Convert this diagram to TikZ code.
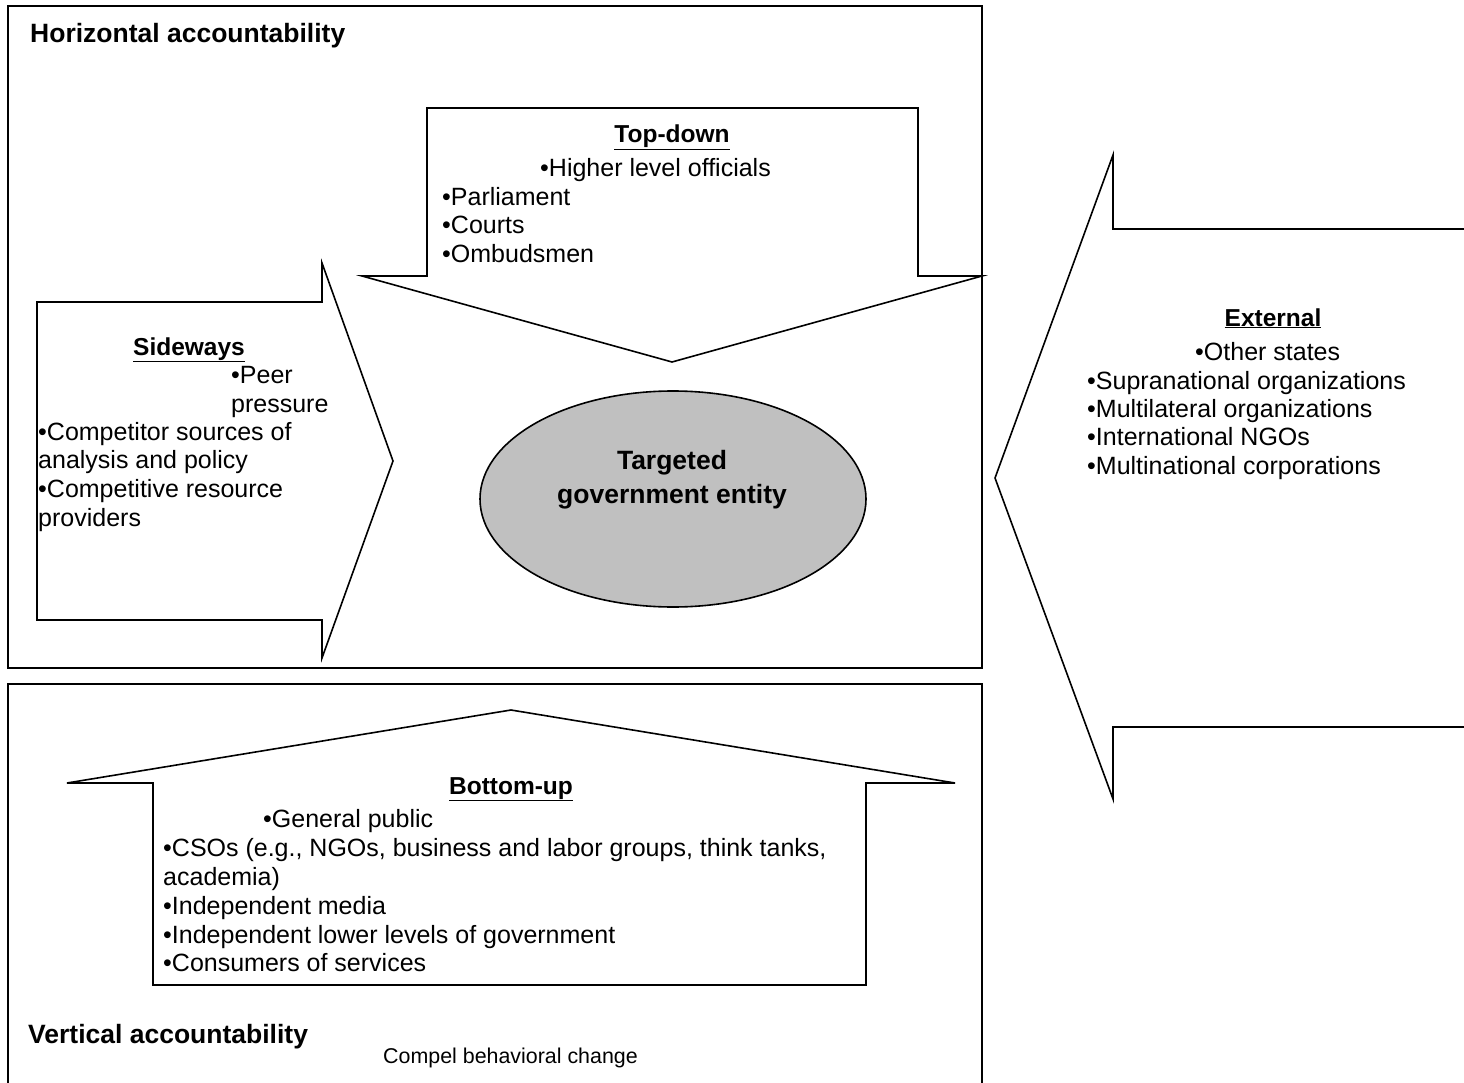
\documentclass[tikz,border=0pt]{standalone}
\usepackage{fontspec}
\setmainfont{Liberation Sans}
\usetikzlibrary{shapes.geometric}
\begin{document}
\begin{tikzpicture}[x=1pt,y=-1pt,
  arrowshape/.style={draw=black,line width=1.6pt,line join=miter,fill=white},
  frame/.style={draw=black,line width=1.8pt},
  txt/.style={inner sep=0pt,anchor=base west,font=\fontsize{25}{29}\selectfont},
  ttl/.style={inner sep=0pt,anchor=base,font=\fontsize{24.5}{29}\selectfont\bfseries},
  enttxt/.style={inner sep=0pt,anchor=base,font=\fontsize{26.5}{31}\selectfont\bfseries},
  head/.style={inner sep=0pt,anchor=base west,font=\fontsize{26.5}{31}\selectfont\bfseries}]
\useasboundingbox (0,0) rectangle (1464,1083);
% frames
\draw[frame] (8,6) rectangle (982,668);
\draw[frame] (982,1090) -- (982,684) -- (8,684) -- (8,1090);
% top-down arrow
\draw[arrowshape] (427,108) -- (918,108) -- (918,276) -- (982,276) -- (672,362) -- (362,276) -- (427,276) -- cycle;
% sideways arrow
\draw[arrowshape] (37,302) -- (322,302) -- (322,263) -- (393,461) -- (322,658) -- (322,620) -- (37,620) -- cycle;
% external arrow
\draw[arrowshape] (1470,229) -- (1113,229) -- (1113,155) -- (995,478) -- (1113,799) -- (1113,727) -- (1470,727);
% bottom-up arrow
\draw[arrowshape] (153,985) -- (153,783) -- (67,783) -- (511,710) -- (955,783) -- (866,783) -- (866,985) -- cycle;
% entity
\node[ellipse,draw=black,line width=1.6pt,fill={rgb,255:red,192;green,192;blue,192},
      minimum width=386pt,minimum height=216pt,inner sep=0pt] (ent) at (673,499) {};
\node[enttxt] (ent1) at (672,469) {Targeted};
\node[enttxt] (ent2) at (672,503) {government entity};
% headings
\node[head] (hacc) at (30,43) {Horizontal accountability};
\node[head] (vacc) at (28,1043) {Vertical accountability};
\node[inner sep=0pt,anchor=base west,font=\fontsize{21.4}{25}\selectfont] (compel) at (383,1063) {Compel behavioral change};
% top-down text
\node[ttl] (tdt) at (672,143) {\underline{Top-down}};
\node[txt] (td1) at (540,177) {•Higher level officials};
\node[txt] (td2) at (442,206) {•Parliament};
\node[txt] (td3) at (442,234) {•Courts};
\node[txt] (td4) at (442,263) {•Ombudsmen};
% sideways text
\node[ttl] (swt) at (189,355) {\underline{Sideways}};
\node[txt] (sw1) at (231,383) {•Peer};
\node[txt] (sw2) at (231,412) {pressure};
\node[txt] (sw3) at (38,440) {•Competitor sources of};
\node[txt] (sw4) at (38,468) {analysis and policy};
\node[txt] (sw5) at (38,497) {•Competitive resource};
\node[txt] (sw6) at (38,526) {providers};
% external text
\node[ttl] (ext) at (1273,326) {\underline{External}};
\node[txt] (ex1) at (1195,360) {•Other states};
\node[txt] (ex2) at (1087,389) {•Supranational organizations};
\node[txt] (ex3) at (1087,417) {•Multilateral organizations};
\node[txt] (ex4) at (1087,445) {•International NGOs};
\node[txt] (ex5) at (1087,474) {•Multinational corporations};
% bottom-up text
\node[ttl] (but) at (511,794) {\underline{Bottom-up}};
\node[txt] (bu1) at (263,827) {•General public};
\node[txt] (bu2) at (163,856) {•CSOs (e.g., NGOs, business and labor groups, think tanks,};
\node[txt] (bu3) at (163,885) {academia)};
\node[txt] (bu4) at (163,914) {•Independent media};
\node[txt] (bu5) at (163,943) {•Independent lower levels of government};
\node[txt] (bu6) at (163,971) {•Consumers of services};
\end{tikzpicture}
\end{document}
